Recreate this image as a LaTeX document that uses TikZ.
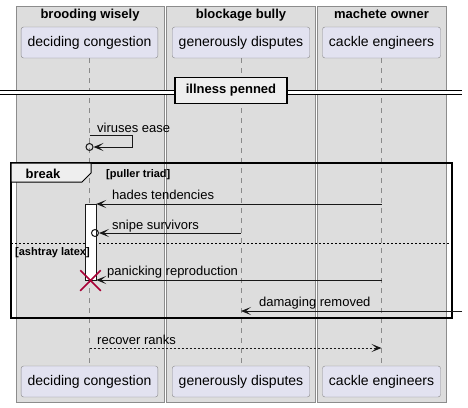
\documentclass[tikz,border=0pt]{standalone}
\usepackage{fontspec}
\setmainfont{Liberation Sans}
\usetikzlibrary{arrows.meta,shapes.misc,positioning}
\definecolor{boxfill}{HTML}{DDDDDD}
\definecolor{boxline}{HTML}{8C8C8C}
\definecolor{actorfill}{HTML}{E2E2F0}
\definecolor{actorline}{HTML}{8A8A8A}
\definecolor{tabfill}{HTML}{EEEEEE}
\definecolor{msgcolor}{HTML}{181818}
\definecolor{killcolor}{HTML}{A80036}

\begin{document}
\begin{tikzpicture}[x=1pt, y=-1pt,
      group/.style={draw=boxline, fill=boxfill},
      grouptitle/.style={anchor=base, inner sep=0pt, font=\bfseries\fontsize{13}{15}\selectfont},
      actor/.style={draw=actorline, fill=actorfill, rounded corners=2.5pt, minimum height=31pt,
        inner xsep=6.5pt, font=\fontsize{14}{16}\selectfont},
      lifeline/.style={draw=actorline, dash pattern=on 5pt off 5pt},
      msg/.style={-{Stealth[length=10pt,width=8pt,inset=5pt]}, line width=1pt, draw=msgcolor},
      msgtext/.style={anchor=base west, inner sep=0pt, font=\fontsize{13}{15}\selectfont},
      condtext/.style={anchor=base west, inner sep=0pt, font=\bfseries\fontsize{11}{13}\selectfont},
      endcircle/.style={circle, draw=msgcolor, line width=1pt, inner sep=0pt, minimum size=7pt}]
    \fill[white] (0,0) rectangle (468,407);
    \useasboundingbox (0,0) rectangle (468,407);

    % boxes
    \draw[group] (16,6) rectangle (164,402);
    \draw[group] (166,6) rectangle (315.5,402);
    \draw[group] (317.5,6) rectangle (446,402);
    \node[grouptitle] (broodingwisely) at (90,18) {brooding wisely};
    \node[grouptitle] (blockagebully) at (241,18) {blockage bully};
    \node[grouptitle] (macheteowner) at (381.5,18) {machete owner};

    % participants
    \node[actor] (decidingcongestion) at (89.5,42.5) {deciding congestion};
    \node[actor] (generouslydisputes) at (241,42.5) {generously disputes};
    \node[actor] (cackleengineers) at (381.5,42.5) {cackle engineers};
    \node[actor] (decidingcongestionend) at (89.5,381.5) {deciding congestion};
    \node[actor] (generouslydisputesend) at (241,381.5) {generously disputes};
    \node[actor] (cackleengineersend) at (381.5,381.5) {cackle engineers};
    \draw[lifeline] (decidingcongestion) -- (decidingcongestionend);
    \draw[lifeline] (generouslydisputes) -- (generouslydisputesend);
    \draw[lifeline] (cackleengineers) -- (cackleengineersend);

    % divider
    \draw[double distance=3pt, line width=1pt] (0,92) -- (462,92);
    \node[draw, line width=1.5pt, fill=tabfill, minimum width=112pt, minimum height=26pt,
      font=\bfseries\fontsize{13}{15}\selectfont] (illnesspenned) at (231,90.5) {illness penned};

    % self message
    \coordinate (virusesfrom) at (decidingcongestion |- 0,135);
    \node[endcircle] (virusesend) at (decidingcongestion |- 0,147) {};
    \draw[msg] (virusesfrom) -- ++(43,0) -- ++(0,12) -- (virusesend.east);
    \node[msgtext] at (97,132) {viruses ease};

    % break
    \draw[line width=1.5pt] (11,163) rectangle (452,318);
    \draw[line width=1pt, fill=tabfill] (11,163) -- (91,163) -- (91,173) -- (82,182) -- (11,182) -- cycle;
    \node[grouptitle] (breaktab) at (43,178) {break};
    \node[condtext] at (106,177) {[puller triad]};
    \draw[dash pattern=on 2pt off 2pt] (11,243) -- (452,243);

    \node[draw=msgcolor, fill=white, minimum width=11pt, minimum height=76pt, inner sep=0pt]
      (decidingbar) at (90.5,242) {};
    \node[condtext] at (15,255) {[ashtray latex]};

    \coordinate (hadesfrom) at (cackleengineers |- 0,204);
    \draw[msg] (hadesfrom) -- (hadesfrom -| decidingbar.east);
    \node[msgtext] at (112,199) {hades tendencies};

    \coordinate (snipefrom) at (generouslydisputes |- 0,233);
    \node[endcircle] (snipeend) at (95,233) {};
    \draw[msg] (snipefrom) -- (snipeend.east);
    \node[msgtext] at (112,229) {snipe survivors};

    \coordinate (panickingfrom) at (cackleengineers |- 0,280);
    \draw[msg] (panickingfrom) -- (panickingfrom -| decidingbar.east);
    \node[draw=killcolor, cross out, line width=1.5pt, minimum size=19pt, inner sep=0pt]
      (decidingkill) at (90.5,280.5) {};
    \node[msgtext] at (107,275) {panicking reproduction};

    \coordinate (damagingfrom) at (462,311);
    \draw[msg] (damagingfrom) -- (generouslydisputes |- damagingfrom);
    \node[msgtext] at (259,306) {damaging removed};

    % return
    \coordinate (recoverfrom) at (decidingcongestion |- 0,348);
    \draw[msg, dash pattern=on 2pt off 2pt] (recoverfrom) -- (cackleengineers |- recoverfrom);
    \node[msgtext] at (97,344) {recover ranks};
  \end{tikzpicture}
\end{document}
